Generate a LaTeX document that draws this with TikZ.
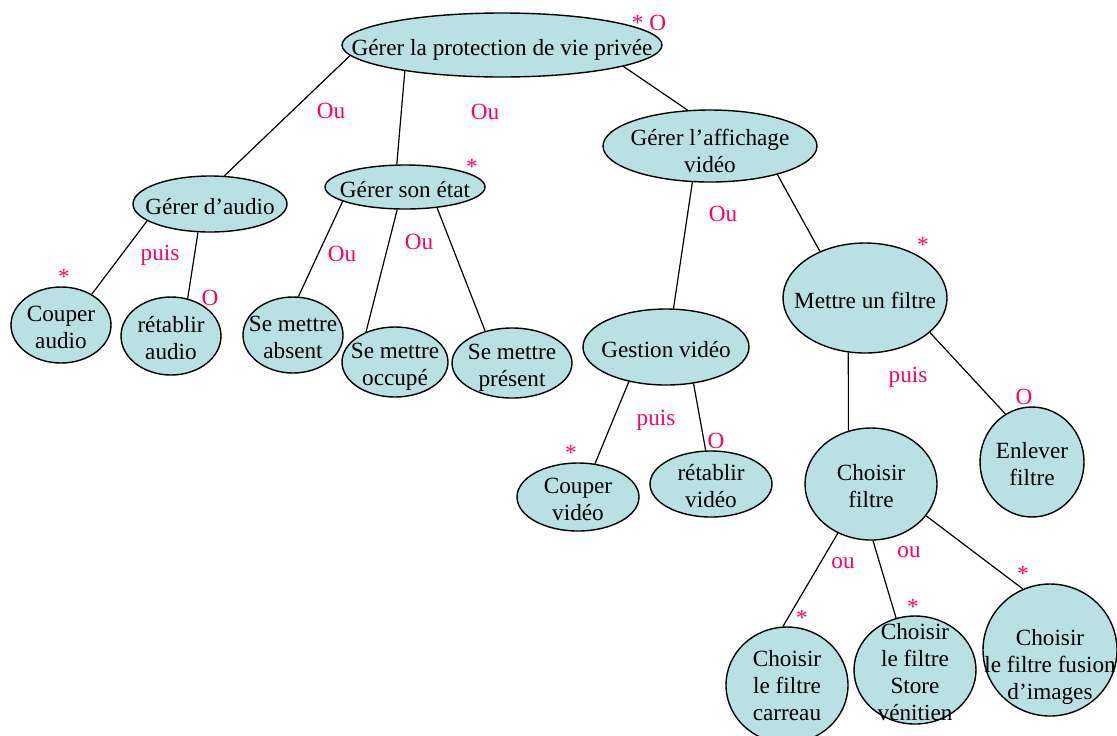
\documentclass[tikz,border=0pt]{standalone}
\usepackage{fontspec}
\setmainfont{Liberation Serif}
\usepackage{xcolor}
\usepackage{tikz}
\usetikzlibrary{shapes.geometric}

\definecolor{bleu}{RGB}{185,224,227}
\definecolor{rose}{RGB}{255,0,102}
\newcommand{\cellule}[2][0pt]{\makebox[0pt]{\smash{\raisebox{\dimexpr-5.5pt-#1\relax}{\begin{tabular}{@{}c@{}}#2\end{tabular}}}}}

\begin{document}
\begin{tikzpicture}[x=0.5pt,y=-0.5pt,
    but/.style={ellipse, draw, fill=bleu, line width=0.7pt, inner sep=0pt,
      font=\fontsize{11.6}{13.5}\selectfont},
    lien/.style={line width=0.6pt},
    op/.style={text=rose, anchor=base, inner sep=0pt,
      font=\fontsize{11.6}{13.5}\selectfont}]
    \useasboundingbox (0,0) rectangle (1117,735);
    %
    \node[but, minimum width=160pt, minimum height=32pt] (racine) at (502,45) {\cellule{Gérer la protection de vie privée}};
    \node[but, minimum width=77pt, minimum height=28pt] (audio) at (210,204) {\cellule{Gérer d’audio}};
    \node[but, minimum width=80pt, minimum height=22pt] (etat) at (405,187) {\cellule{Gérer son état}};
    \node[but, minimum width=107pt, minimum height=36pt] (affich) at (710,146) {\cellule[1.5pt]{Gérer l’affichage\\vidéo}};
    %
    \node[but, minimum width=50pt, minimum height=38pt] (coupa) at (61,325) {\cellule{Couper\\audio}};
    \node[but, minimum width=50pt, minimum height=39pt] (retaa) at (171,336) {\cellule{rétablir\\audio}};
    \node[but, minimum width=50pt, minimum height=38pt] (absent) at (293,335) {\cellule{Se mettre\\absent}};
    \node[but, minimum width=53pt, minimum height=35pt] (occupe) at (395,362) {\cellule{Se mettre\\occupé}};
    \node[but, minimum width=60pt, minimum height=35pt] (present) at (512,363) {\cellule{Se mettre\\présent}};
    %
    \node[but, minimum width=83pt, minimum height=38pt] (gestion) at (666,347) {\cellule{Gestion vidéo}};
    \node[but, minimum width=61pt, minimum height=34pt] (coupv) at (578,497) {\cellule{Couper\\vidéo}};
    \node[but, minimum width=61pt, minimum height=33pt] (retav) at (711,484) {\cellule{rétablir\\vidéo}};
    %
    \node[but, minimum width=82pt, minimum height=55pt] (filtre) at (865,298) {\cellule{Mettre un filtre}};
    \node[but, minimum width=66pt, minimum height=56pt] (choix) at (871,484) {\cellule{Choisir\\filtre}};
    \node[but, minimum width=52pt, minimum height=55pt] (enlever) at (1032,462) {\cellule{Enlever\\filtre}};
    \node[but, minimum width=61pt, minimum height=58pt] (carreau) at (787,685) {\cellule[-1pt]{Choisir\\le filtre\\carreau}};
    \node[but, minimum width=61pt, minimum height=54pt] (store) at (915,670) {\cellule{Choisir\\le filtre\\Store\\vénitien}};
    \node[but, minimum width=67pt, minimum height=66pt] (fusion) at (1050,650) {\cellule[6pt]{Choisir\\le filtre fusion\\d’images}};
    %
    \draw[lien] (racine.184) -- (audio.63);
    \draw[lien] (racine.195) -- (etat.110);
    \draw[lien] (racine.350) -- (affich.122);
    \draw[lien] (audio.195) -- (coupa.45);
    \draw[lien] (audio.247) -- (retaa.66);
    \draw[lien] (etat.193) -- (absent.82);
    \draw[lien] (etat.251) -- (occupe.134);
    \draw[lien] (etat.327) -- (present.130);
    \draw[lien] (affich.244) -- (gestion.79);
    \draw[lien] (affich.337) -- (filtre.134);
    \draw[lien] (gestion.223) -- (coupv.63);
    \draw[lien] (gestion.307) -- (retav.99);
    \draw[lien] (filtre.253) -- (choix.113);
    \draw[lien] (filtre.332) -- (enlever.119);
    \draw[lien] (choix.236) -- (carreau.94);
    \draw[lien] (choix.272) -- (store.110);
    \draw[lien] (choix.330) -- (fusion.114);
    %
    \node[op] (opt0) at (649,30) {* O};
    \node[op] (ou1) at (331,118) {Ou};
    \node[op] (ou2) at (485,119) {Ou};
    \node[op] (ou3) at (723,221) {Ou};
    \node[op] (ou4) at (342,261) {Ou};
    \node[op] (ou5) at (419,249) {Ou};
    \node[op] (ou6) at (843,568) {ou};
    \node[op] (ou7) at (909,557) {ou};
    \node[op] (puis1) at (160,260) {puis};
    \node[op] (puis2) at (656,425) {puis};
    \node[op] (puis3) at (908,382) {puis};
    \node[op] (opt1) at (210,305) {O};
    \node[op] (opt2) at (716,448) {O};
    \node[op] (opt3) at (1024,404) {O};
    \node[op] (rep1) at (64,284) {*};
    \node[op] (rep2) at (472,174) {*};
    \node[op] (rep3) at (571,460) {*};
    \node[op] (rep4) at (923,252) {*};
    \node[op] (rep5) at (802,625) {*};
    \node[op] (rep6) at (913,614) {*};
    \node[op] (rep7) at (1023,581) {*};
\end{tikzpicture}
\end{document}
